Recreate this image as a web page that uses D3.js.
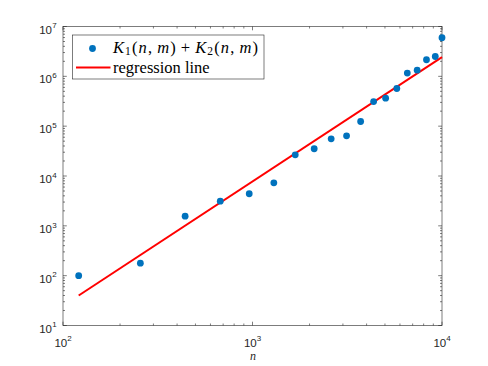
<!DOCTYPE html>
<html><head><meta charset="utf-8">
<script src="https://cdn.jsdelivr.net/npm/d3@7"></script>
<style>body{margin:0;background:#fff}svg{display:block}</style>
</head><body>
<svg id="c" width="488" height="366"></svg>
<script>
const nValues = [121, 256, 441, 676, 961, 1296, 1681, 2116, 2601, 3136, 3721, 4356, 5041, 5776, 6561, 7396, 8281, 9216, 10000];
const kValues = [100, 178, 1560, 3120, 4400, 7310, 26600, 35200, 55800, 64100, 124000, 312000, 365000, 570000, 1160000, 1330000, 2150000, 2500000, 5940000];
const regN = [121, 10000];
const regK = [40, 2420000];
const xTicks = [100, 1000, 10000];
const yTicks = [10, 100, 1000, 10000, 100000, 1000000, 10000000];
const legendLabels = ["K1(n,m)+K2(n,m)", "regression line"];

const svg = d3.select("#c");
const L = 63, R = 442, T = 26.5, B = 325.5;
const x = d3.scaleLog().domain([100, 10000]).range([L, R]);
const y = d3.scaleLog().domain([10, 1e7]).range([B, T]);
const axisColor = "#262626";

const xMinor = [], yMinor = [];
for (let d = 100; d < 10000; d *= 10) for (let k = 2; k <= 9; k++) xMinor.push(d * k);
for (let d = 10; d < 1e7; d *= 10) for (let k = 2; k <= 9; k++) yMinor.push(d * k);

const g = svg.append("g");
const tl = 3.8, tm = 2;
function tick(x1, y1, x2, y2) {
  g.append("line").attr("x1", x1).attr("y1", y1).attr("x2", x2).attr("y2", y2)
   .attr("stroke", axisColor).attr("stroke-width", 0.6);
}
xTicks.forEach(v => { const px = x(v); tick(px, B, px, B - tl); tick(px, T, px, T + tl); });
xMinor.forEach(v => { const px = x(v); tick(px, B, px, B - tm); tick(px, T, px, T + tm); });
yTicks.forEach(v => { const py = y(v); tick(L, py, L + tl, py); tick(R, py, R - tl, py); });
yMinor.forEach(v => { const py = y(v); tick(L, py, L + tm, py); tick(R, py, R - tm, py); });

g.append("rect").attr("x", L).attr("y", T).attr("width", R - L).attr("height", B - T)
 .attr("fill", "none").attr("stroke", axisColor).attr("stroke-width", 0.6);

const tf = "'Liberation Sans', Arial, sans-serif";
xTicks.forEach(v => {
  const t = svg.append("text").attr("x", x(v)).attr("y", 346.5).attr("text-anchor", "middle")
    .attr("font-family", tf).attr("font-size", 11.5).attr("fill", axisColor);
  t.append("tspan").text("10");
  t.append("tspan").attr("dy", -5.5).attr("font-size", 8).text(Math.round(Math.log10(v)));
});
yTicks.forEach(v => {
  const t = svg.append("text").attr("x", 52).attr("y", y(v) + 7).attr("text-anchor", "end")
    .attr("font-family", tf).attr("font-size", 11.5).attr("fill", axisColor);
  t.append("tspan").text("10");
  svg.append("text").attr("x", 52.3).attr("y", y(v) + 1.8).attr("font-family", tf).attr("font-size", 8)
    .attr("fill", axisColor).text(Math.round(Math.log10(v)));
});

svg.append("text").attr("x", 253).attr("y", 359.5).attr("text-anchor", "middle")
  .attr("font-family", "'Liberation Serif', serif").attr("font-style", "italic").attr("font-size", 12)
  .attr("fill", axisColor).text("n");

svg.append("path").datum(regN.map((n, i) => [n, regK[i]]))
  .attr("d", d3.line().x(d => x(d[0])).y(d => y(d[1])))
  .attr("stroke", "#ff0000").attr("stroke-width", 2).attr("fill", "none");

svg.append("g").selectAll("circle").data(nValues.map((n, i) => [n, kValues[i]])).join("circle")
  .attr("cx", d => x(d[0])).attr("cy", d => y(d[1])).attr("r", 3.4).attr("fill", "#0072BD");

const lg = svg.append("g");
lg.append("rect").attr("x", 72.5).attr("y", 35).attr("width", 191.5).attr("height", 44)
  .attr("fill", "#fff").attr("stroke", axisColor).attr("stroke-width", 0.6);
lg.append("circle").attr("cx", 92.5).attr("cy", 48.5).attr("r", 3.4).attr("fill", "#0072BD");
lg.append("line").attr("x1", 76).attr("x2", 110.5).attr("y1", 67.5).attr("y2", 67.5)
  .attr("stroke", "#ff0000").attr("stroke-width", 2);
const sf = "'Liberation Serif', 'DejaVu Serif', serif";
const t1 = lg.append("text").attr("x", 113).attr("y", 52.5).attr("font-family", sf).attr("font-size", 16.5)
  .attr("letter-spacing", 1.1).attr("fill", "#000");
function part(txt, it, sub, dx) {
  const s = t1.append("tspan").text(txt);
  if (it) s.attr("font-style", "italic");
  if (sub) s.attr("font-size", 11.5).attr("dy", 2.5);
  if (dx) s.attr("dx", dx);
  return s;
}
part("K", true); part("1", false, true);
t1.append("tspan").attr("dy", -2.5).text("(");
part("n", true); t1.append("tspan").text(","); part("m", true, false, 4); t1.append("tspan").text(")");
t1.append("tspan").attr("dx", 4).text("+");
part("K", true, false, 4); part("2", false, true);
t1.append("tspan").attr("dy", -2.5).text("(");
part("n", true); t1.append("tspan").text(","); part("m", true, false, 4); t1.append("tspan").text(")");
lg.append("text").attr("x", 113).attr("y", 72.5).attr("font-family", sf).attr("font-size", 16.5)
  .attr("fill", "#000").text(legendLabels[1]);
</script>
</body></html>
